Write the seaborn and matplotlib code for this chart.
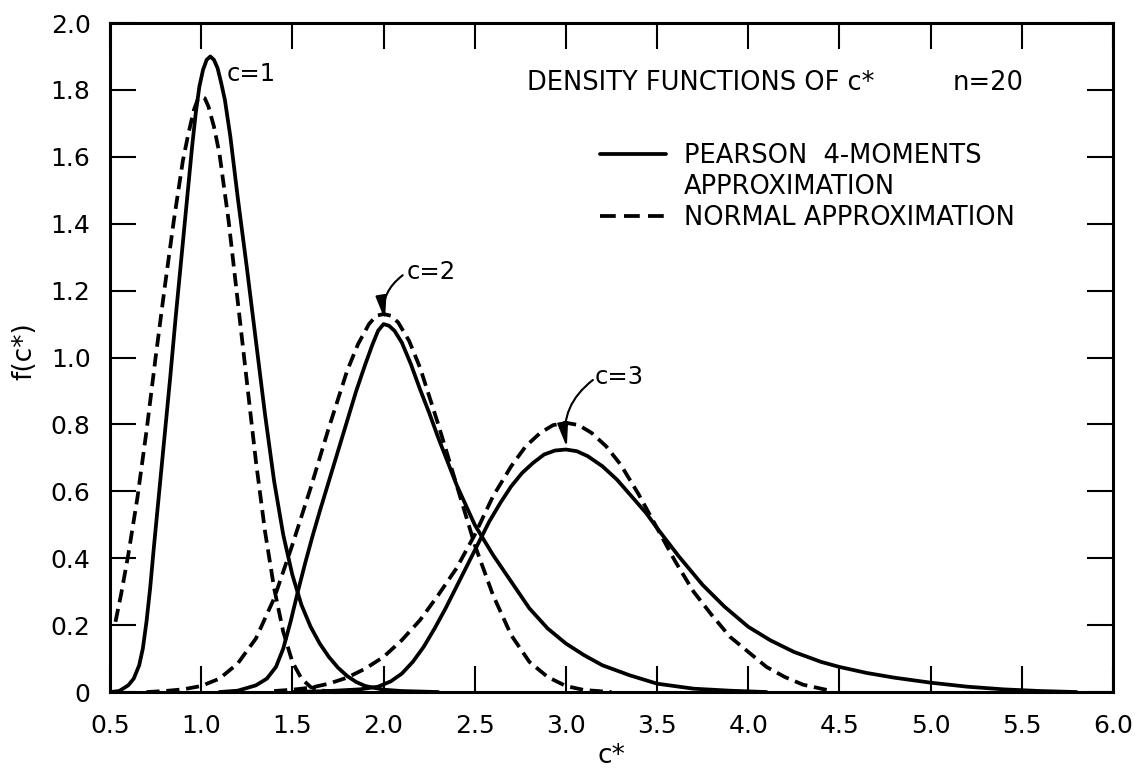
import numpy as np
import pandas as pd
import matplotlib
matplotlib.use("Agg")
import matplotlib.pyplot as plt
import seaborn as sns
from matplotlib.lines import Line2D

# ---------------- data ----------------
pearson_c1_x = [0.50, 0.55, 0.60, 0.63, 0.66, 0.68, 0.70, 0.72, 0.74, 0.77, 0.80, 0.83, 0.86, 0.89,
                0.92, 0.95, 0.97, 0.99, 1.01, 1.03, 1.05, 1.07, 1.09, 1.11, 1.13, 1.16, 1.20, 1.25,
                1.30, 1.35, 1.40, 1.45, 1.50, 1.55, 1.60, 1.65, 1.70, 1.75, 1.80, 1.85, 1.90, 2.00,
                2.10, 2.30]
pearson_c1_y = [0.0, 0.003, 0.02, 0.04, 0.08, 0.13, 0.21, 0.31, 0.43, 0.60, 0.77, 0.94, 1.12, 1.29,
                1.46, 1.63, 1.73, 1.81, 1.86, 1.89, 1.90, 1.89, 1.865, 1.82, 1.77, 1.66, 1.48, 1.27,
                1.05, 0.83, 0.63, 0.47, 0.35, 0.26, 0.195, 0.145, 0.105, 0.073, 0.048, 0.03, 0.018, 0.007,
                0.003, 0.0]

normal_c1_x = [0.53, 0.56, 0.60, 0.65, 0.70, 0.75, 0.80, 0.85, 0.90, 0.93, 0.96, 0.98, 1.00, 1.02,
               1.04, 1.07, 1.10, 1.15, 1.20, 1.25, 1.30, 1.35, 1.40, 1.45, 1.50, 1.55, 1.60, 1.65, 1.75]
normal_c1_y = [0.21, 0.29, 0.41, 0.58, 0.78, 1.00, 1.21, 1.41, 1.59, 1.67, 1.74, 1.77, 1.78, 1.775,
               1.75, 1.69, 1.61, 1.41, 1.17, 0.93, 0.69, 0.48, 0.31, 0.18, 0.09, 0.04, 0.015, 0.005, 0.0]

pearson_c2_x = [1.10, 1.20, 1.30, 1.36, 1.41, 1.45, 1.49, 1.53, 1.57, 1.61, 1.65, 1.70, 1.75, 1.80,
                1.85, 1.90, 1.94, 1.97, 2.00, 2.03, 2.06, 2.10, 2.15, 2.20, 2.25, 2.30, 2.40, 2.50,
                2.60, 2.70, 2.80, 2.90, 3.00, 3.10, 3.20, 3.35, 3.50, 3.70, 3.90, 4.10]
pearson_c2_y = [0.0, 0.004, 0.02, 0.04, 0.075, 0.13, 0.21, 0.30, 0.385, 0.465, 0.54, 0.63, 0.72, 0.81,
                0.90, 0.98, 1.04, 1.08, 1.10, 1.095, 1.08, 1.045, 0.98, 0.905, 0.835, 0.76, 0.62, 0.50,
                0.41, 0.33, 0.25, 0.19, 0.145, 0.11, 0.08, 0.05, 0.025, 0.01, 0.004, 0.0]

normal_c2_x = [0.70, 0.80, 0.90, 1.00, 1.10, 1.20, 1.30, 1.40, 1.50, 1.60, 1.70, 1.80, 1.86, 1.92,
               1.96, 2.00, 2.04, 2.08, 2.14, 2.20, 2.30, 2.40, 2.50, 2.60, 2.70, 2.80, 2.90, 3.00,
               3.10, 3.25]
normal_c2_y = [0.0, 0.003, 0.008, 0.018, 0.04, 0.085, 0.16, 0.28, 0.44, 0.61, 0.79, 0.96, 1.04, 1.10,
               1.125, 1.13, 1.125, 1.105, 1.05, 0.97, 0.80, 0.62, 0.44, 0.29, 0.17, 0.09, 0.045, 0.018,
               0.006, 0.0]

pearson_c3_x = [1.50, 1.70, 1.87, 1.97, 2.04, 2.10, 2.16, 2.22, 2.28, 2.34, 2.40, 2.46, 2.52, 2.58,
                2.64, 2.70, 2.76, 2.82, 2.88, 2.94, 3.00, 3.06, 3.12, 3.20, 3.28, 3.36, 3.44, 3.50,
                3.62, 3.75, 3.87, 4.00, 4.12, 4.25, 4.40, 4.50, 4.65, 4.80, 5.00, 5.20, 5.40, 5.60,
                5.80]
pearson_c3_y = [0.0, 0.003, 0.008, 0.016, 0.032, 0.055, 0.09, 0.135, 0.19, 0.25, 0.315, 0.38, 0.445, 0.51,
                0.565, 0.615, 0.655, 0.685, 0.71, 0.722, 0.725, 0.72, 0.705, 0.675, 0.635, 0.585, 0.535, 0.49,
                0.405, 0.32, 0.255, 0.195, 0.155, 0.12, 0.09, 0.075, 0.057, 0.043, 0.028, 0.016, 0.008, 0.003,
                0.0]

normal_c3_x = [1.40, 1.50, 1.60, 1.70, 1.80, 1.90, 2.00, 2.10, 2.20, 2.30, 2.40, 2.50, 2.60, 2.70,
               2.78, 2.86, 2.93, 3.00, 3.07, 3.14, 3.22, 3.30, 3.40, 3.50, 3.60, 3.70, 3.80, 3.90,
               4.00, 4.10, 4.20, 4.30, 4.45]
normal_c3_y = [0.003, 0.007, 0.013, 0.025, 0.043, 0.07, 0.105, 0.155, 0.215, 0.29, 0.37, 0.47, 0.585, 0.675,
               0.735, 0.775, 0.798, 0.805, 0.798, 0.775, 0.735, 0.68, 0.59, 0.49, 0.39, 0.30, 0.23, 0.165,
               0.12, 0.075, 0.045, 0.022, 0.004]

x_ticks = [0.5, 1.0, 1.5, 2.0, 2.5, 3.0, 3.5, 4.0, 4.5, 5.0, 5.5, 6.0]
x_tick_labels = ["0.5", "1.0", "1.5", "2.0", "2.5", "3.0", "3.5", "4.0", "4.5", "5.0", "5.5", "6.0"]
y_ticks = [0.0, 0.2, 0.4, 0.6, 0.8, 1.0, 1.2, 1.4, 1.6, 1.8, 2.0]
y_tick_labels = ["0", "0.2", "0.4", "0.6", "0.8", "1.0", "1.2", "1.4", "1.6", "1.8", "2.0"]

curve_labels = ["c=1", "c=2", "c=3"]
legend_labels = ["PEARSON  4-MOMENTS", "APPROXIMATION", "NORMAL APPROXIMATION"]
title_text = "DENSITY FUNCTIONS OF c*"
n_text = "n=20"

# ---------------- style ----------------
sns.set_theme(style="ticks")
plt.rcParams["font.family"] = ["DejaVu Sans"]
plt.rcParams["text.color"] = "black"
plt.rcParams["axes.labelcolor"] = "black"
plt.rcParams["xtick.color"] = "black"
plt.rcParams["ytick.color"] = "black"

fig = plt.figure(figsize=(11.46, 7.78), dpi=100)
fig.patch.set_facecolor("white")
ax = fig.add_axes([0.0960, 0.1105, 0.8752, 0.8599])
ax.set_facecolor("white")

frames = []
for name, method, xs, ys in [
    ("p1", "Pearson", pearson_c1_x, pearson_c1_y),
    ("n1", "Normal", normal_c1_x, normal_c1_y),
    ("p2", "Pearson", pearson_c2_x, pearson_c2_y),
    ("n2", "Normal", normal_c2_x, normal_c2_y),
    ("p3", "Pearson", pearson_c3_x, pearson_c3_y),
    ("n3", "Normal", normal_c3_x, normal_c3_y),
]:
    frames.append(pd.DataFrame({"x": xs, "y": ys, "curve": name, "method": method}))
df = pd.concat(frames, ignore_index=True)

LW = 2.7
DASH = (3.5, 1.8)
sns.lineplot(data=df, x="x", y="y", units="curve", style="method", estimator=None,
             sort=False, dashes={"Pearson": "", "Normal": DASH}, color="black",
             linewidth=LW, legend=False, ax=ax,
             solid_joinstyle="round", solid_capstyle="round", dash_joinstyle="round")

ax.set_xlim(0.5, 6.0)
ax.set_ylim(0.0, 2.0)
ax.set_xticks(x_ticks)
ax.set_xticklabels(x_tick_labels)
ax.set_yticks(y_ticks)
ax.set_yticklabels(y_tick_labels)
ax.tick_params(axis="both", which="major", direction="in", length=19, width=1.5,
               top=True, right=True, labelsize=18, pad=14)
ax.tick_params(axis="x", pad=16)
for sp in ax.spines.values():
    sp.set_visible(True)
    sp.set_linewidth(2.2)
    sp.set_color("black")

ax.set_xlabel("c*", fontsize=19)
ax.set_ylabel("f(c*)", fontsize=19)
ax.xaxis.set_label_coords(0.5, -0.076)
ax.yaxis.set_label_coords(-0.072, 0.51)

# curve annotations
ax.text(1.141, 1.827, curve_labels[0], fontsize=17.5, va="baseline", ha="left")
ax.text(2.128, 1.235, curve_labels[1], fontsize=17.5, va="baseline", ha="left")
ax.text(3.159, 0.921, curve_labels[2], fontsize=17.5, va="baseline", ha="left")
arrow_kw = dict(arrowstyle="-|>,head_length=0.8,head_width=0.18", color="black", lw=1.5,
                shrinkA=0, shrinkB=0, mutation_scale=18, connectionstyle="arc3,rad=0.3")
ax.annotate("", xy=(2.008, 1.112), xytext=(2.105, 1.246), arrowprops=arrow_kw)
ax.annotate("", xy=(3.005, 0.732), xytext=(3.148, 0.933), arrowprops=arrow_kw)

# title-like text inside axes
ax.text(0.4158, 0.8999, title_text, transform=ax.transAxes, fontsize=18.5, va="baseline", ha="left")
ax.text(0.8405, 0.8999, n_text, transform=ax.transAxes, fontsize=18.5, va="baseline", ha="left")

handles = [Line2D([], [], color="black", lw=LW),
           Line2D([], [], color="none", lw=LW),
           Line2D([], [], color="black", lw=LW, dashes=(4.2, 2.2))]
ax.legend(handles, legend_labels, loc="upper left", bbox_to_anchor=(0.4885, 0.8206),
          frameon=False, fontsize=18.5, handlelength=2.57, handletextpad=0.70,
          labelspacing=0.2, borderpad=0, borderaxespad=0)

fig.savefig("out.png", dpi=100, facecolor="white")
